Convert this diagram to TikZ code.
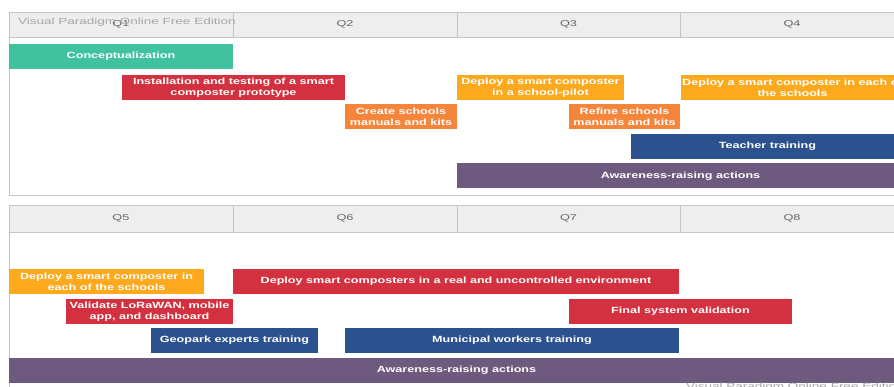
\documentclass[tikz,border=0pt]{standalone}
\usepackage{fontspec}
\setmainfont{Liberation Sans}
\newfontfamily\barfont[FakeStretch=1.4]{Liberation Sans}
\newfontfamily\hdrfont[FakeStretch=1.5]{Liberation Sans}
\definecolor{cteal}{HTML}{40C29E}
\definecolor{cred}{HTML}{D3313F}
\definecolor{corange}{HTML}{F5853A}
\definecolor{camber}{HTML}{FCA91E}
\definecolor{cblue}{HTML}{2B528F}
\definecolor{cpurple}{HTML}{6E5A7E}
\definecolor{hfill}{HTML}{EEEEEE}
\definecolor{hline}{HTML}{C4C4C4}
\definecolor{htext}{HTML}{666666}
\begin{document}
\begin{tikzpicture}[x=1pt,y=-1pt,
  bar/.style={rectangle, inner sep=0pt, text=white, align=center, minimum height=25pt,
    font=\barfont\bfseries\fontsize{9}{11}\selectfont},
  hdr/.style={rectangle, draw=hline, fill=hfill, inner sep=0pt, text=htext,
    font=\hdrfont\fontsize{8.5}{10}\selectfont},
  frame/.style={draw=hline, line width=0.8pt},
  wm/.style={text=gray!70, inner sep=0pt, font=\hdrfont\fontsize{9}{10}\selectfont}]
\useasboundingbox (0,0) rectangle (894,387);
\clip (0,0) rectangle (894,387);
\fill[white] (0,0) rectangle (894,387);
% panel frames
\draw[frame] (920,195) -- (9,195) -- (9,12);
\draw[frame] (9,205) -- (9,400);
% headers top
\node[hdr, minimum width=224pt, minimum height=25pt] (h1) at (121,24.5) {Q1};
\node[hdr, minimum width=224pt, minimum height=25pt] (h2) at (345,24.5) {Q2};
\node[hdr, minimum width=223pt, minimum height=25pt] (h3) at (568.5,24.5) {Q3};
\node[hdr, minimum width=224pt, minimum height=25pt] (h4) at (792,24.5) {Q4};
\node[wm, anchor=base west] (wm1) at (18,24.5) {Visual Paradigm Online Free Edition};
% headers bottom
\node[hdr, minimum width=224pt, minimum height=27pt] (h5) at (121,218.5) {Q5};
\node[hdr, minimum width=224pt, minimum height=27pt] (h6) at (345,218.5) {Q6};
\node[hdr, minimum width=223pt, minimum height=27pt] (h7) at (568.5,218.5) {Q7};
\node[hdr, minimum width=224pt, minimum height=27pt] (h8) at (792,218.5) {Q8};
% top bars
\node[bar, fill=cteal, minimum width=224pt] (concept) at (121,56.5) {Conceptualization};
\node[bar, fill=cred, minimum width=223pt] (install) at (233.5,87.5) {Installation and testing of a smart\\composter prototype};
\node[bar, fill=corange, minimum width=112pt] (create) at (401,117) {Create schools\\manuals and kits};
\node[bar, fill=camber, minimum width=167pt] (pilot) at (540.5,87.5) {Deploy a smart composter\\in a school-pilot};
\node[bar, fill=camber, minimum width=223pt] (each) at (792.5,87.5) {Deploy a smart composter in each of\\the schools};
\node[bar, fill=corange, minimum width=111pt] (refine) at (624.5,117) {Refine schools\\manuals and kits};
\node[bar, fill=cblue, minimum width=273pt] (teacher) at (767.5,146.5) {Teacher training};
\node[bar, fill=cpurple, minimum width=447pt] (aware1) at (680.5,176) {Awareness-raising actions};
% bottom bars
\node[bar, fill=camber, minimum width=195pt] (each2) at (106.5,281.5) {Deploy a smart composter in\\each of the schools};
\node[bar, fill=cred, minimum width=446pt] (real) at (456,281.5) {Deploy smart composters in a real and uncontrolled environment};
\node[bar, fill=cred, minimum width=167pt] (validate) at (149.5,311.5) {Validate LoRaWAN, mobile\\app, and dashboard};
\node[bar, fill=cred, minimum width=223pt] (final) at (680.5,311.5) {Final system validation};
\node[bar, fill=cblue, minimum width=167pt] (geopark) at (234.5,340.5) {Geopark experts training};
\node[bar, fill=cblue, minimum width=334pt] (municipal) at (512,340.5) {Municipal workers training};
\node[bar, fill=cpurple, minimum width=895pt] (aware2) at (456.5,370) {Awareness-raising actions};
\node[wm, anchor=north west] (wm2) at (686,382.5) {Visual Paradigm Online Free Edition};
\end{tikzpicture}
\end{document}
